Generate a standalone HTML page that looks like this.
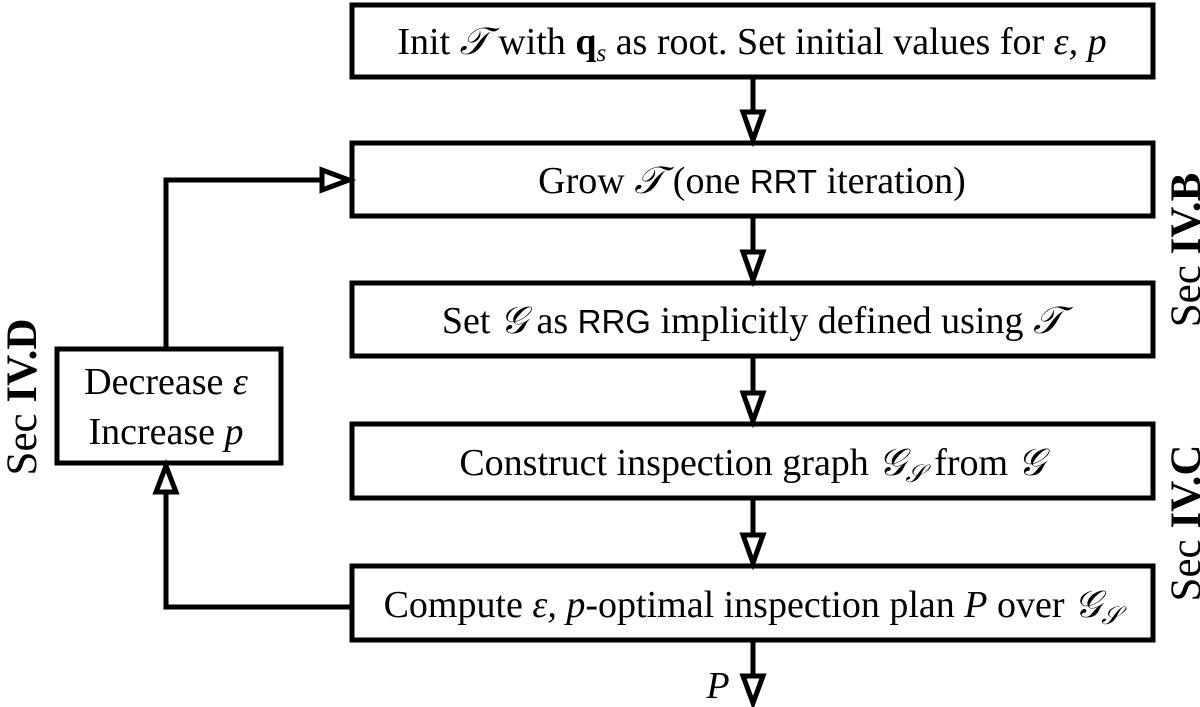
<!DOCTYPE html>
<html><head><meta charset="utf-8"><style>
html,body{margin:0;padding:0;background:#fff;}
svg{display:block;}
text{font-family:"Liberation Serif",serif;font-size:38px;fill:#000;}
.s{font-family:"Liberation Sans",sans-serif;font-size:33px;}
.i{font-style:italic;}
.side{font-size:43px;}
</style></head><body>
<svg width="1200" height="707" viewBox="0 0 1200 707">
<g fill="none" stroke="#000" stroke-width="5">
<rect x="352" y="5" width="801" height="72"/>
<rect x="352" y="143" width="801" height="73"/>
<rect x="352" y="283" width="801" height="73"/>
<rect x="352" y="424" width="801" height="74"/>
<rect x="352" y="566" width="801" height="74"/>
<rect x="57" y="349" width="224" height="114"/>
<path d="M753,77 V112"/>
<path d="M753,216 V252"/>
<path d="M753,356 V393"/>
<path d="M753,498 V535"/>
<path d="M753,640 V676"/>
<path d="M352,607 H166 V492"/>
<path d="M166,349 V180 H322"/>
</g>
<g fill="#fff" stroke="#000" stroke-width="5" stroke-linejoin="miter">
<path d="M743,112 L763,112 L753,140 Z"/>
<path d="M743,252 L763,252 L753,280 Z"/>
<path d="M743,393 L763,393 L753,421 Z"/>
<path d="M743,535 L763,535 L753,563 Z"/>
<path d="M743,676 L763,676 L753,703 Z"/>
<path d="M156,492 L176,492 L166,466 Z"/>
<path d="M322,170 L322,190 L349,180 Z"/>
</g>
<text x="752" y="54" text-anchor="middle">Init <tspan class="i">𝒯</tspan> with <tspan font-weight="bold">q</tspan><tspan class="i" font-size="25" dy="7">s</tspan><tspan dy="-7"> as root. Set initial values for </tspan><tspan class="i">ε, p</tspan></text>
<text x="752" y="193" text-anchor="middle">Grow <tspan class="i">𝒯</tspan> (one <tspan class="s">RRT</tspan> iteration)</text>
<text x="752" y="333" text-anchor="middle">Set <tspan class="i">𝒢</tspan> as <tspan class="s">RRG</tspan> implicitly defined using <tspan class="i">𝒯</tspan></text>
<text x="752" y="475" text-anchor="middle">Construct inspection graph <tspan class="i">𝒢</tspan><tspan class="i" font-size="25" dy="7">𝒮</tspan><tspan dy="-7"> from </tspan><tspan class="i">𝒢</tspan></text>
<text x="752" y="617" text-anchor="middle">Compute <tspan class="i">ε, p</tspan>-optimal inspection plan <tspan class="i">P</tspan> over <tspan class="i">𝒢</tspan><tspan class="i" font-size="25" dy="7">𝒮</tspan></text>
<text x="166" y="394" text-anchor="middle">Decrease <tspan class="i">ε</tspan></text>
<text x="166" y="444" text-anchor="middle">Increase <tspan class="i">p</tspan></text>
<text x="718" y="698" text-anchor="middle" class="i">P</text>
<text class="side" transform="translate(36,397) rotate(-90)" text-anchor="middle">Sec <tspan font-weight="bold">IV.D</tspan></text>
<text class="side" transform="translate(1200,250) rotate(-90)" text-anchor="middle">Sec <tspan font-weight="bold">IV.B</tspan></text>
<text class="side" transform="translate(1200,523) rotate(-90)" text-anchor="middle">Sec <tspan font-weight="bold">IV.C</tspan></text>
</svg>
</body></html>
